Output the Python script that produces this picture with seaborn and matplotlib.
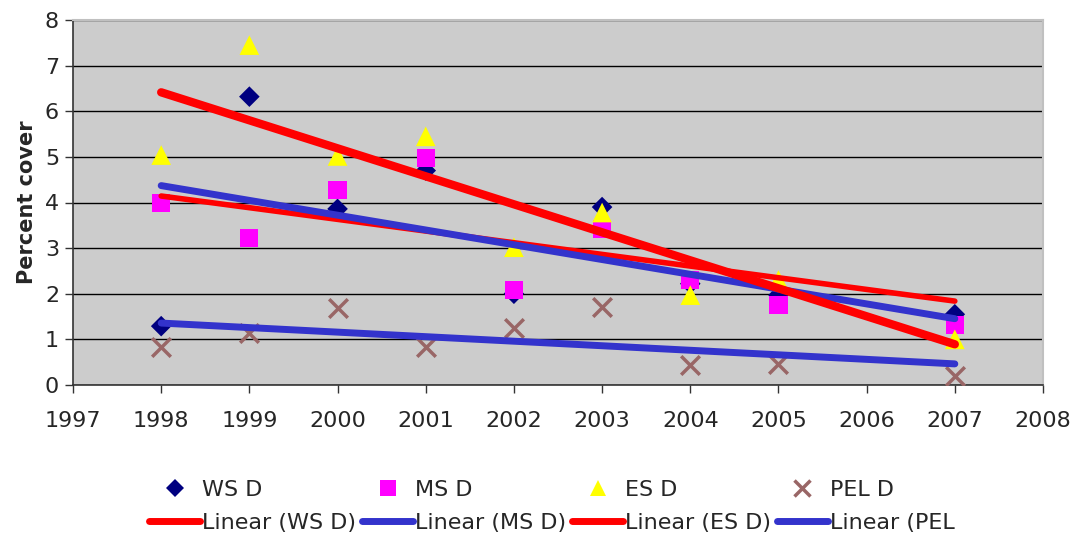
import numpy as np
import pandas as pd
import matplotlib
matplotlib.use("Agg")
import matplotlib.pyplot as plt
import seaborn as sns
from matplotlib.lines import Line2D

years = [1998, 1999, 2000, 2001, 2002, 2003, 2004, 2005, 2007]
ws_d = [1.29, 6.32, 3.86, 4.70, 2.00, 3.90, 2.22, 1.97, 1.55]
ms_d = [3.99, 3.22, 4.28, 4.98, 2.08, 3.42, 2.30, 1.75, 1.32]
es_d = [5.04, 7.45, 5.02, 5.45, 3.02, 3.78, 1.97, 2.30, 1.00]
pel_d = [0.83, 1.13, 1.68, 0.83, 1.25, 1.71, 0.44, 0.47, 0.20]

series = ["WS D", "MS D", "ES D", "PEL D"]
trend_labels = ["Linear (WS D)", "Linear (MS D)", "Linear (ES D)", "Linear (PEL"]
xticks = list(range(1997, 2009))

df = pd.DataFrame({"Year": years, "WS D": ws_d, "MS D": ms_d,
                   "ES D": es_d, "PEL D": pel_d})
long = df.melt(id_vars="Year", var_name="Series", value_name="Cover")

colors = {"WS D": "#000080", "MS D": "#FF00FF", "ES D": "#FFFF00", "PEL D": "#996666"}
markers = {"WS D": "D", "MS D": "s", "ES D": "^", "PEL D": "x"}
sizes = {"WS D": 110, "MS D": 170, "ES D": 200, "PEL D": 180}
trend_colors = ["#FF0000", "#3333CC", "#FF0000", "#3333CC"]
trend_widths = [4, 5, 6, 5]

sns.set_style("white")
plt.rcParams["font.family"] = ["DejaVu Sans"]

fig = plt.figure(figsize=(10.85, 5.37), dpi=100)
ax = fig.add_axes([73 / 1085, 1 - 385 / 537, (1043 - 73) / 1085, (385 - 20) / 537])
ax.set_facecolor("#CCCCCC")

for s in series:
    sub = long[long["Series"] == s]
    sns.scatterplot(data=sub, x="Year", y="Cover", ax=ax, color=colors[s],
                    marker=markers[s], s=sizes[s], linewidth=0 if s != "PEL D" else 2.5,
                    edgecolor=colors[s] if s == "PEL D" else "none", zorder=3, legend=False)

# Linear trendlines like Excel
xs = np.array([min(years), max(years)])
for s, c, w in zip(series, trend_colors, trend_widths):
    k, b = np.polyfit(df["Year"], df[s], 1)
    ax.plot(xs, k * xs + b, color=c, lw=w, solid_capstyle="round", zorder=4)

ax.set_xlim(1997, 2008)
ax.set_ylim(0, 8)
ax.set_xticks(xticks)
ax.set_yticks(range(0, 9))
ax.yaxis.grid(True, color="black", lw=1.0)
ax.set_axisbelow(True)
ax.tick_params(axis="both", direction="out", length=6, width=1, color="#333333",
               labelsize=16, bottom=True, left=True)
ax.tick_params(axis="x", pad=13)
ax.tick_params(axis="y", pad=4)
ax.set_xlabel("")
ax.set_ylabel("Percent cover", fontsize=15, fontweight="bold", labelpad=6)
for side in ["top", "right"]:
    ax.spines[side].set_color("#C0C0C0")
    ax.spines[side].set_linewidth(1.5)
for side in ["left", "bottom"]:
    ax.spines[side].set_color("#333333")
    ax.spines[side].set_linewidth(1.2)

handles = []
labels = []
for s, tl, c, w in zip(series, trend_labels, trend_colors, trend_widths):
    handles.append(Line2D([], [], ls="none", marker=markers[s], color=colors[s],
                          markersize=11 if s != "WS D" else 9, mew=2.5 if s == "PEL D" else 0))
    labels.append(s)
    handles.append(Line2D([], [], color=c, lw=5))
    labels.append(tl)

fig.legend(handles, labels, ncol=4, loc="lower left", bbox_to_anchor=(0.119, -0.03),
           frameon=False, fontsize=16, handlelength=2.3, handletextpad=0.1,
           columnspacing=0.25, labelspacing=0.6)

fig.savefig("out.png", dpi=100)
